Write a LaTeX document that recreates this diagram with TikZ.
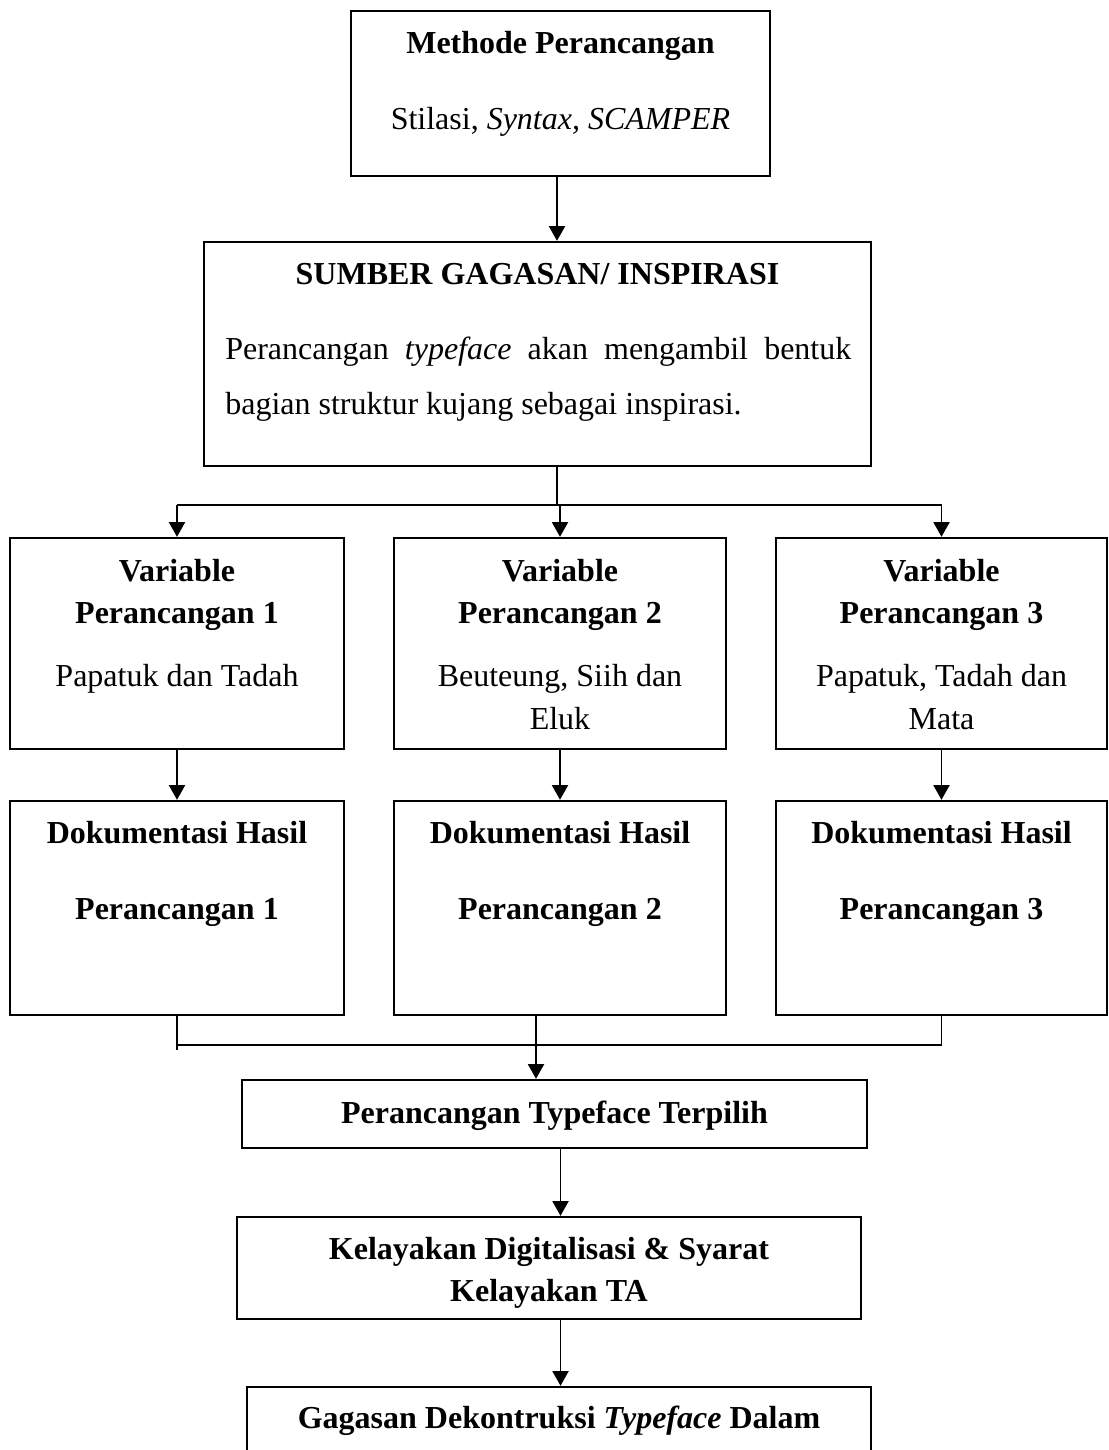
\documentclass[tikz,border=0pt]{standalone}
\usepackage{fontspec}
\setmainfont{Liberation Serif}
\usetikzlibrary{arrows.meta}
\usetikzlibrary{positioning}
\usetikzlibrary{calc}
\usetikzlibrary{fit}

\begin{document}
\begin{tikzpicture}[x=0.375pt, y=-0.375pt,
  box/.style={draw, line width=0.9pt, inner sep=0pt},
  txt/.style={anchor=base, inner sep=0pt, font=\fontsize{12}{14}\selectfont},
  head/.style={txt, font=\fontsize{12}{14}\selectfont\bfseries},
  link/.style={line width=0.7pt},
  arr/.style={link, -{Triangle[length=5.5pt, width=6pt]}}]

  \useasboundingbox (0,0) rectangle (1108,1450);
  \clip (0,0) rectangle (1108,1450);

  % boxes
  \node[box, fit={(351,11) (770,176)}] (meth) {};
  \node[box, fit={(204,242) (871,466)}] (sumber) {};
  \foreach \i/\l/\r in {1/10/344, 2/394/726, 3/776/1107}{%
    \node[box, fit={(\l,538) (\r,749)}] (var\i) {};
    \node[box, fit={(\l,801) (\r,1015)}] (dok\i) {};
  }
  \node[box, fit={(242,1080) (867,1148)}] (pilih) {};
  \node[box, fit={(237,1217) (861,1319)}] (layak) {};
  \node[box, fit={(247,1387) (871,1480)}] (gagasan) {};

  % texts
  \node[head] (methT) at ($(meth.north)+(0,44)$) {Methode Perancangan};
  \node[txt] (methS) at ($(meth.north)+(0,120)$) {Stilasi, \textit{Syntax, SCAMPER}};
  \node[head] (sumberT) at ($(sumber.north)+(0,44)$) {SUMBER GAGASAN/ INSPIRASI};
  \node[txt, anchor=base west] (sumberA) at ($(sumber.north west)+(22,119)$)
    {\makebox[234.75pt][s]{Perancangan \textit{typeface} akan mengambil bentuk}};
  \node[txt, anchor=base west] (sumberB) at ($(sumber.north west)+(22,174)$)
    {bagian struktur kujang sebagai inspirasi.};

  \foreach \i/\a/\b in {1/{Papatuk dan Tadah}/{},
      2/{Beuteung, Siih dan}/{Eluk},
      3/{Papatuk, Tadah dan}/{Mata}}{%
    \node[head] (varT\i) at ($(var\i.north)+(0,45)$) {Variable};
    \node[head] (varN\i) at ($(var\i.north)+(0,87)$) {Perancangan \i};
    \node[txt] (varA\i) at ($(var\i.north)+(0,150)$) {\a};
    \node[txt] (varB\i) at ($(var\i.north)+(0,193)$) {\b};
    \node[head] (dokT\i) at ($(dok\i.north)+(0,44)$) {Dokumentasi Hasil};
    \node[head] (dokN\i) at ($(dok\i.north)+(0,120)$) {Perancangan \i};
  }

  \node[head] (pilihT) at ($(pilih.north)+(0,45)$) {Perancangan Typeface Terpilih};
  \node[head] (layakA) at ($(layak.north)+(0,44)$) {Kelayakan Digitalisasi \& Syarat};
  \node[head] (layakB) at ($(layak.north)+(0,86)$) {Kelayakan TA};
  \node[head] (gagasanT) at ($(gagasan.north)+(0,43)$)
    {Gagasan Dekontruksi \textit{Typeface} Dalam};

  % connectors
  \coordinate (split) at (557,505);
  \coordinate (merge) at (536,1045);

  \draw[arr] (meth.south -| split) -- (sumber.north -| split);
  \draw[link] (sumber.south -| split) -- (split);
  \draw[link] (var1.north |- split) -- (var3.north |- split);
  \foreach \i in {1,2,3}{%
    \draw[arr] (var\i.north |- split) -- (var\i.north);
    \draw[arr] (var\i.south) -- (dok\i.north);
  }

  \draw[link] (dok1.south) -- ($(dok1.south |- merge)+(0,5)$);
  \draw[link] (dok2.south -| merge) -- (merge);
  \draw[link] (dok3.south) -- (dok3.south |- merge);
  \draw[link] (dok1.south |- merge) -- (dok3.south |- merge);
  \draw[arr] (merge) -- (merge |- pilih.north);
  \draw[arr] (pilih.south -| meth.south) -- (layak.north -| meth.south);
  \draw[arr] (layak.south -| meth.south) -- (gagasan.north -| meth.south);
\end{tikzpicture}
\end{document}
